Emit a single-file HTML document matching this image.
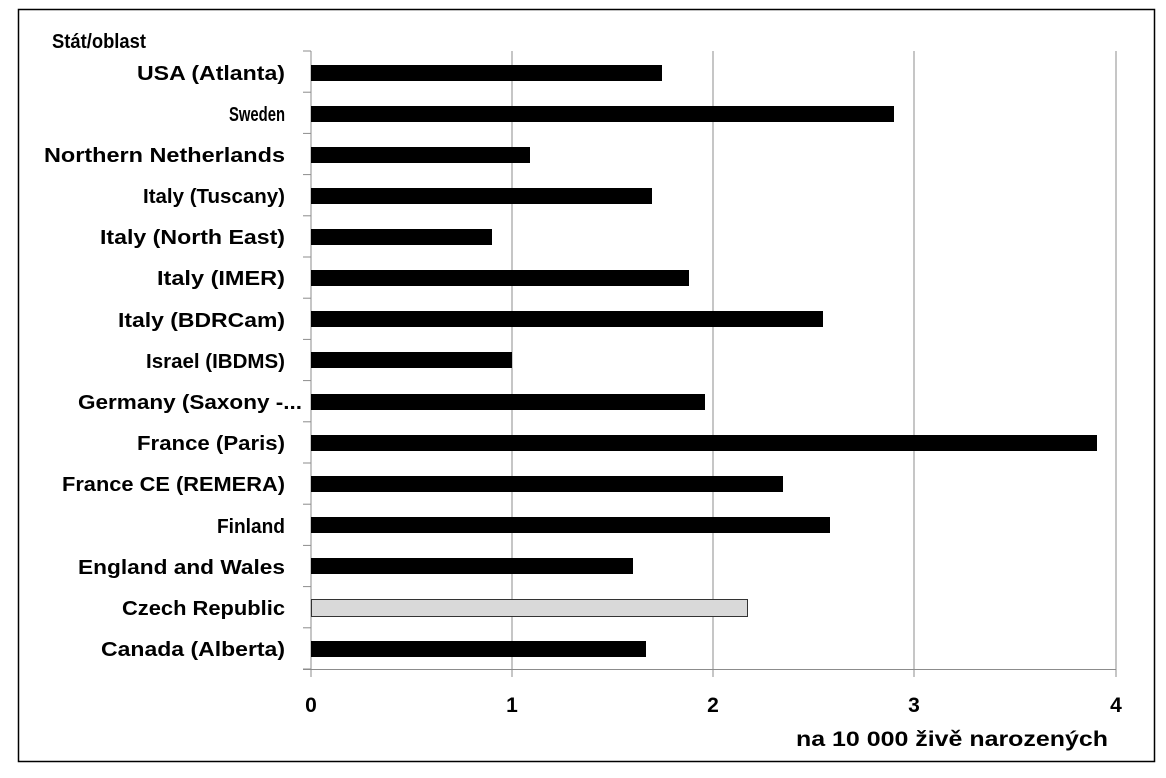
<!DOCTYPE html>
<html><head><meta charset="utf-8"><style>
html,body{margin:0;padding:0;background:#fff;}
svg text{font-family:"Liberation Sans",sans-serif;font-weight:bold;fill:#000;}
</style></head><body>
<svg width="1166" height="773" xmlns="http://www.w3.org/2000/svg">
<rect x="18.5" y="9.5" width="1136" height="752" fill="#fff" stroke="#000" stroke-width="1.5"/>
<g stroke="#8c8c8c" stroke-width="1">
<line x1="512" y1="51" x2="512" y2="677"/>
<line x1="713" y1="51" x2="713" y2="677"/>
<line x1="914" y1="51" x2="914" y2="677"/>
<line x1="1116" y1="51" x2="1116" y2="677"/>
<line x1="311" y1="51" x2="311" y2="677"/>
<line x1="303" y1="669.5" x2="1116" y2="669.5"/>
</g>
<g stroke="#8c8c8c" stroke-width="1" id="ticks"></g>
<g font-size="20" text-anchor="start">
<text x="52" y="48" textLength="94" lengthAdjust="spacingAndGlyphs">Stát/oblast</text>
<text x="137" y="80" textLength="148" lengthAdjust="spacingAndGlyphs">USA (Atlanta)</text>
<text x="229" y="121" textLength="56" lengthAdjust="spacingAndGlyphs">Sweden</text>
<text x="44" y="162" textLength="241" lengthAdjust="spacingAndGlyphs">Northern Netherlands</text>
<text x="143" y="203" textLength="142" lengthAdjust="spacingAndGlyphs">Italy (Tuscany)</text>
<text x="100" y="244" textLength="185" lengthAdjust="spacingAndGlyphs">Italy (North East)</text>
<text x="157" y="285" textLength="128" lengthAdjust="spacingAndGlyphs">Italy (IMER)</text>
<text x="118" y="327" textLength="167" lengthAdjust="spacingAndGlyphs">Italy (BDRCam)</text>
<text x="146" y="368" textLength="139" lengthAdjust="spacingAndGlyphs">Israel (IBDMS)</text>
<text x="78" y="409" textLength="224" lengthAdjust="spacingAndGlyphs">Germany (Saxony -...</text>
<text x="137" y="450" textLength="148" lengthAdjust="spacingAndGlyphs">France (Paris)</text>
<text x="62" y="491" textLength="223" lengthAdjust="spacingAndGlyphs">France CE (REMERA)</text>
<text x="217" y="533" textLength="68" lengthAdjust="spacingAndGlyphs">Finland</text>
<text x="78" y="574" textLength="207" lengthAdjust="spacingAndGlyphs">England and Wales</text>
<text x="122" y="615" textLength="163" lengthAdjust="spacingAndGlyphs">Czech Republic</text>
<text x="101" y="656" textLength="184" lengthAdjust="spacingAndGlyphs">Canada (Alberta)</text>
</g>
<g fill="#000">
<rect x="311" y="65" width="351" height="16"/>
<rect x="311" y="106" width="583" height="16"/>
<rect x="311" y="147" width="219" height="16"/>
<rect x="311" y="188" width="341" height="16"/>
<rect x="311" y="229" width="181" height="16"/>
<rect x="311" y="270" width="378" height="16"/>
<rect x="311" y="311" width="512" height="16"/>
<rect x="311" y="352" width="201" height="16"/>
<rect x="311" y="394" width="394" height="16"/>
<rect x="311" y="435" width="786" height="16"/>
<rect x="311" y="476" width="472" height="16"/>
<rect x="311" y="517" width="519" height="16"/>
<rect x="311" y="558" width="322" height="16"/>
<rect x="311.5" y="599.5" width="436" height="17" fill="#d9d9d9" stroke="#333" stroke-width="1"/>
<rect x="311" y="641" width="335" height="16"/>
</g>
<g font-size="21" text-anchor="middle">
<text x="311" y="712">0</text>
<text x="512" y="712">1</text>
<text x="713" y="712">2</text>
<text x="914" y="712">3</text>
<text x="1116" y="712">4</text>
</g>
<text x="796" y="746" font-size="21" textLength="312" lengthAdjust="spacingAndGlyphs">na 10 000 živě narozených</text>
<script>
var g=document.getElementById('ticks');
for(var i=0;i<=15;i++){var y=51+i*41.2;var l=document.createElementNS('http://www.w3.org/2000/svg','line');l.setAttribute('x1',303);l.setAttribute('x2',311);l.setAttribute('y1',y);l.setAttribute('y2',y);g.appendChild(l);}
</script>
</svg>
</body></html>
